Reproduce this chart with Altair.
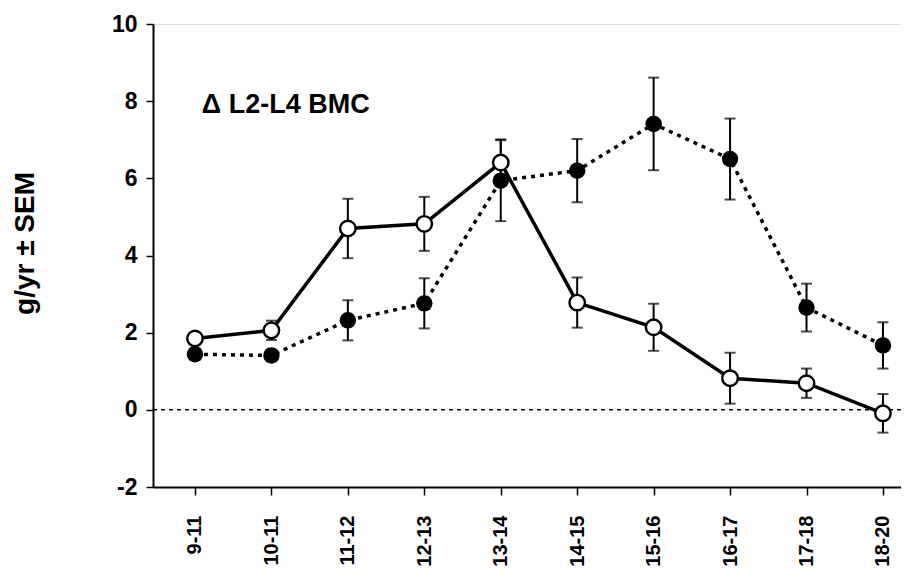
import json
import altair as alt
import pandas as pd

# ---- data ----
groups = ["9-11", "10-11", "11-12", "12-13", "13-14", "14-15", "15-16", "16-17", "17-18", "18-20"]
open_mean = [1.85, 2.06, 4.70, 4.82, 6.41, 2.78, 2.14, 0.82, 0.69, -0.09]
open_sem = [0.15, 0.25, 0.77, 0.70, 0.60, 0.65, 0.61, 0.66, 0.38, 0.50]
filled_mean = [1.44, 1.41, 2.32, 2.76, 5.94, 6.20, 7.41, 6.50, 2.65, 1.67]
filled_sem = [0.15, 0.15, 0.52, 0.65, 1.05, 0.82, 1.20, 1.05, 0.62, 0.60]
y_ticks = [-2, 0, 2, 4, 6, 8, 10]
note_text = ["\u0394 L2-L4 BMC"]
note_x = [0.09]
note_y = [7.69]

FONT = "Liberation Sans"
idx = list(range(len(groups)))


def frame(mean, sem):
    return pd.DataFrame({
        "i": idx,
        "group": groups,
        "mean": mean,
        "lo": [m - s for m, s in zip(mean, sem)],
        "hi": [m + s for m, s in zip(mean, sem)],
    })


df_open = frame(open_mean, open_sem)
df_fill = frame(filled_mean, filled_sem)
df_zero = pd.DataFrame({"mean": [0]})
df_note = pd.DataFrame({"i": note_x, "mean": note_y, "t": note_text})

label_expr = json.dumps(groups) + "[datum.value]"

x_enc = alt.X(
    "i:Q",
    scale=alt.Scale(domain=[-0.549, 9.236], nice=False, zero=False),
    axis=alt.Axis(values=idx, labelExpr=label_expr, labelAngle=-90,
                  labelAlign="right", labelBaseline="middle",
                  labelFontSize=20, labelFontWeight="bold", labelFont=FONT,
                  labelPadding=20, tickSize=8, tickWidth=1.5, domainWidth=2,
                  tickColor="black", domainColor="black", labelColor="black",
                  grid=False, title=None),
)

TITLE = "g/yr \u00b1 SEM"
y_scale = alt.Scale(domain=[-2, 10], nice=False, zero=False)
y_axis = alt.Axis(values=y_ticks, labelExpr="'' + datum.value",
                  labelFontSize=23, labelFontWeight="bold",
                  labelFont=FONT, labelPadding=9, tickSize=7, tickWidth=1.5,
                  domainWidth=2, tickColor="black", domainColor="black",
                  labelColor="black", grid=False,
                  titleFontSize=28, titleFontWeight="bold", titleFont=FONT,
                  titleColor="black", titlePadding=72, titleY=219)


def Y(field):
    return alt.Y(field, scale=y_scale, axis=y_axis, title=TITLE)


zero_rule = alt.Chart(df_zero).mark_rule(
    color="black", strokeWidth=1.5, strokeDash=[4, 4]
).encode(y=Y("mean:Q"))


def series(df, dotted, filled):
    bars = alt.Chart(df).mark_rule(color="black", strokeWidth=2).encode(
        x=x_enc, y=Y("lo:Q"), y2="hi:Q")
    cap_lo = alt.Chart(df).mark_tick(color="black", orient="horizontal",
                                     size=11, thickness=2).encode(x=x_enc, y=Y("lo:Q"))
    cap_hi = alt.Chart(df).mark_tick(color="black", orient="horizontal",
                                     size=11, thickness=2).encode(x=x_enc, y=Y("hi:Q"))
    line_kw = dict(color="black", strokeWidth=3.5)
    if dotted:
        line_kw["strokeDash"] = [4, 5]
    line = alt.Chart(df).mark_line(**line_kw).encode(x=x_enc, y=Y("mean:Q"))
    if filled:
        pts = alt.Chart(df).mark_circle(color="black", size=270, opacity=1).encode(
            x=x_enc, y=Y("mean:Q"))
    else:
        pts = alt.Chart(df).mark_point(shape="circle", filled=True, fill="white",
                                       stroke="black", strokeWidth=2.4, size=240,
                                       opacity=1).encode(x=x_enc, y=Y("mean:Q"))
    return [bars, cap_lo, cap_hi, line, pts]


note = alt.Chart(df_note).mark_text(
    align="left", baseline="alphabetic", fontSize=27, fontWeight="bold",
    font=FONT, color="black"
).encode(x=x_enc, y=Y("mean:Q"), text="t:N")

layers = [zero_rule] + series(df_fill, True, True) + series(df_open, False, False) + [note]

chart = alt.layer(*layers).properties(
    width=748, height=463,
    autosize=alt.AutoSizeParams(type="none"),
    padding={"left": 145, "top": 16, "right": 0, "bottom": 92},
).configure_view(stroke=None).configure(background="white")

chart.save("out.html", embed_options={"renderer": "svg", "actions": False})
